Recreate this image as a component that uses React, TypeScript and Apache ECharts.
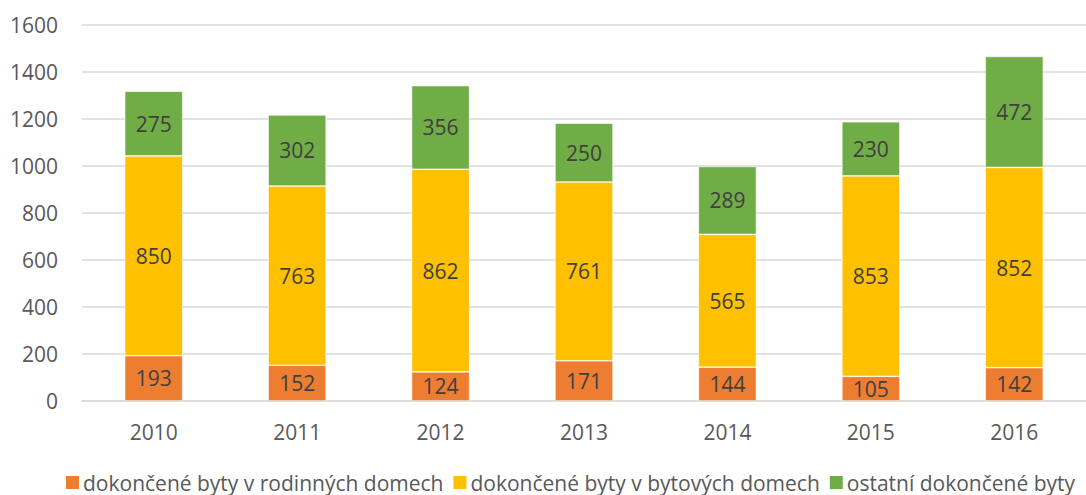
import React, { useEffect, useRef } from "react";
import * as echarts from "echarts";

const categories = ["2010", "2011", "2012", "2013", "2014", "2015", "2016"];
const rodinne = [193, 152, 124, 171, 144, 105, 142];
const bytove = [850, 763, 862, 761, 565, 853, 852];
const ostatni = [275, 302, 356, 250, 289, 230, 472];
const seriesNames = [
  "dokončené byty v rodinných domech",
  "dokončené byty v bytových domech",
  "ostatní dokončené byty",
];
const colors = ["#ED7D31", "#FFC000", "#70AD47"];

const FONT = "Open Sans";
const FS = 21;

export default function App() {
  const ref = useRef<HTMLDivElement>(null);
  useEffect(() => {
    document.body.style.margin = "0";
    const chart = echarts.init(ref.current!, null, { renderer: "svg" });
    const mk = (name: string, data: number[], color: string) => ({
      name,
      type: "bar",
      stack: "total",
      data,
      barWidth: 58,
      itemStyle: { color, borderColor: "#ffffff", borderWidth: 0.6 },
      label: {
        show: true,
        position: "inside",
        color: "#404040",
        fontSize: FS,
        fontFamily: FONT,
      },
    });
    chart.setOption({
      animation: false,
      textStyle: { fontFamily: FONT },
      grid: { left: 82, top: 25, width: 1016, height: 376 },
      legend: {
        top: 467,
        left: 59,
        itemWidth: 15,
        itemHeight: 15,
        itemGap: 8,
        icon: "rect",
        textStyle: { color: "#595959", fontSize: FS, fontFamily: FONT, padding: [0, 0, 0, -2] },
        data: seriesNames,
      },
      xAxis: {
        type: "category",
        data: categories,
        axisLine: { show: true, lineStyle: { color: "#D9D9D9", width: 1.5 } },
        axisTick: { show: false },
        axisLabel: { color: "#595959", fontSize: FS, margin: 20, fontFamily: FONT },
      },
      yAxis: {
        type: "value",
        min: 0,
        max: 1600,
        interval: 200,
        axisLine: { show: false },
        axisTick: { show: false },
        splitLine: { lineStyle: { color: "#D9D9D9", width: 1.5 } },
        axisLabel: {
          color: "#595959",
          fontSize: FS,
          margin: 24,
          fontFamily: FONT,
          formatter: (v: number) => String(v),
        },
      },
      series: [
        mk(seriesNames[0], rodinne, colors[0]),
        mk(seriesNames[1], bytove, colors[1]),
        mk(seriesNames[2], ostatni, colors[2]),
      ],
    });
    return () => chart.dispose();
  }, []);
  return <div ref={ref} style={{ width: 1086, height: 495 }} />;
}
